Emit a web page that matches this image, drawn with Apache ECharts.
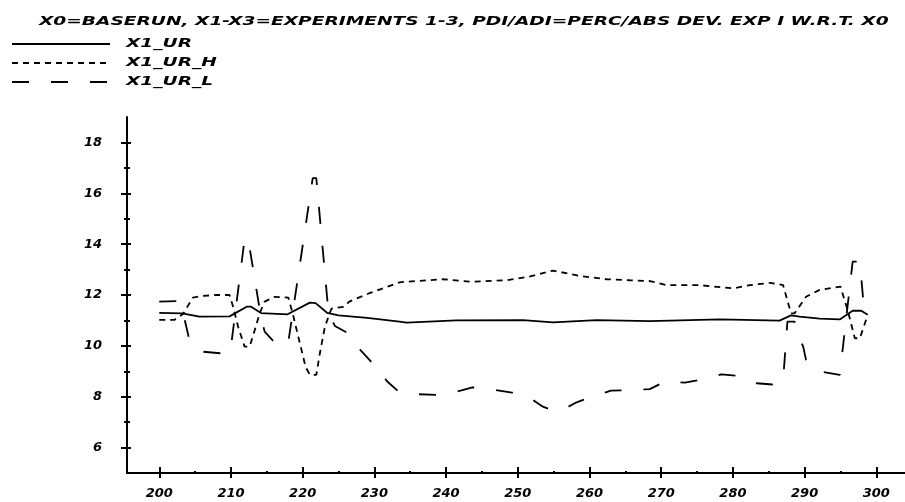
<!DOCTYPE html>
<html>
<head>
<meta charset="utf-8">
<script src="https://cdn.jsdelivr.net/npm/echarts@6/dist/echarts.min.js"></script>
<style>
  html, body { margin: 0; padding: 0; background: #fff; }
  #chart { width: 905px; height: 502px; }
</style>
</head>
<body>
<div id="chart"></div>
<script>
const titleText = 'X0=BASERUN, X1-X3=EXPERIMENTS 1-3, PDI/ADI=PERC/ABS DEV. EXP I W.R.T. X0';
const seriesNames = ['X1_UR', 'X1_UR_H', 'X1_UR_L'];
const seriesDash = ['solid', [6, 5], [17, 22]];

// X1_UR (solid)
const urX = [200, 203.2, 205.6, 209.8, 212.2, 212.8, 214.2, 217.9, 221, 221.8, 223.4, 225, 229, 233.5, 234.5,
  241.4, 250.7, 254.9, 261, 268.4, 278.2, 286.5, 288.1, 289.3, 292.1, 294.9, 296.7, 297.9, 298.8];
const urY = [11.3, 11.28, 11.15, 11.16, 11.54, 11.54, 11.29, 11.24, 11.7, 11.68, 11.3, 11.2, 11.1, 10.95, 10.91,
  11.0, 11.01, 10.92, 11.01, 10.97, 11.04, 10.99, 11.2, 11.15, 11.07, 11.04, 11.38, 11.38, 11.22];

// X1_UR_H (short dashes)
const urHX = [200, 202.1, 203.3, 204.7, 206, 207.9, 209.8, 210.3, 211, 211.9, 212.6, 213.3, 214, 214.7, 216.1,
  218, 218.6, 219.5, 220.4, 221, 221.9, 222.4, 223.1, 224, 225.8, 226.5, 229.3, 233.5, 239.5, 243.7, 248.4,
  251.6, 254.9, 258.7, 262.4, 265.6, 268.4, 270.7, 275.3, 280, 282.4, 285.2, 287, 288.1, 288.6, 290.2, 292.1,
  295, 296, 297, 297.7, 298.8];
const urHY = [11.02, 11.02, 11.25, 11.9, 11.96, 12.0, 12.0, 11.54, 10.75, 9.97, 9.97, 10.6, 11.28, 11.74, 11.93,
  11.9, 11.28, 10.23, 9.18, 8.86, 8.86, 9.71, 10.75, 11.46, 11.54, 11.74, 12.07, 12.5, 12.62, 12.52, 12.58,
  12.72, 12.96, 12.75, 12.62, 12.58, 12.55, 12.39, 12.39, 12.26, 12.39, 12.48, 12.39, 11.28, 11.28, 11.93, 12.2,
  12.33, 11.41, 10.3, 10.3, 11.21];

// X1_UR_L (long dashes)
const urLX = [200, 202.6, 203.5, 204.2, 205.2, 206.1, 208.5, 209.8, 210.0, 211.9, 212.4, 213.5, 214.2, 214.7,
  216.3, 217.3, 218.0, 221.4, 221.9, 223.6, 224.5, 226.3, 227.5, 228.9, 230.3, 231.8, 233.3, 236, 238.6, 241.5,
  243.7, 246.8, 249.2, 251.7, 253.5, 255.2, 256.2, 258.2, 260.6, 263, 265.6, 268.4, 270.7, 273.3, 275.8, 278.4,
  280.9, 283.3, 285.5, 287.0, 287.6, 288.6, 289, 289.8, 290.2, 292.1, 294.9, 296.7, 297.7, 298.3, 298.8];
const urLY = [11.74, 11.76, 11.08, 10.23, 9.9, 9.77, 9.71, 9.73, 9.97, 14.2, 14.2, 12.3, 11.1, 10.56,
  10.07, 9.98, 10.15, 16.6, 16.6, 11.3, 10.78, 10.5, 10.0, 9.58, 9.13, 8.6, 8.22, 8.1, 8.07, 8.2,
  8.37, 8.27, 8.16, 7.95, 7.61, 7.42, 7.48, 7.78, 8.03, 8.24, 8.26, 8.3, 8.62, 8.55, 8.69, 8.88,
  8.82, 8.53, 8.48, 8.65, 10.95, 10.95, 10.5, 9.97, 9.45, 8.99, 8.86, 13.31, 13.31, 11.41, 11.2];

const xLabels = [200, 210, 220, 230, 240, 250, 260, 270, 280, 290, 300];
const xMinorTicks = [205, 215, 225, 235, 245, 255, 265, 275, 285, 295];
const yLabels = [6, 8, 10, 12, 14, 16, 18];
const yMinorTicks = [7, 9, 11, 13, 15, 17];

const font = {
  fontFamily: 'DejaVu Sans',
  fontStyle: 'italic',
  fontWeight: 'bold',
  fontSize: 13,
  color: '#000'
};
const cssFont = 'italic bold 12px "DejaVu Sans"';
const stretch = 1.55; // the plotter's lettering is much wider than any installed font

const toPairs = (xs, ys) => xs.map((x, i) => [x, ys[i]]);

const chart = echarts.init(document.getElementById('chart'));

// extra axes only carry tick marks, so major ticks cross the axis line
function tickAxis(base, values, inside, length) {
  return Object.assign({}, base, {
    axisLine: { show: false, onZero: false },
    axisLabel: { show: false },
    splitLine: { show: false },
    axisTick: { customValues: values, inside: inside, length: length, lineStyle: { color: '#000', width: 2 } }
  });
}

const xBase = { type: 'value', min: 195.5, max: 304, position: 'bottom' };
const yBase = { type: 'value', min: 5, max: 19, position: 'left' };

// title and key drawn as stretched text
const graphics = [{
  type: 'text', x: 39, y: 22, scaleX: stretch,
  style: { text: titleText, font: cssFont, fill: '#000', verticalAlign: 'middle' }
}];
seriesNames.forEach((name, i) => {
  const rowY = 44 + i * 19;
  graphics.push({
    type: 'line',
    shape: { x1: 12, y1: rowY, x2: 110, y2: rowY },
    style: { stroke: '#000', lineWidth: 2, lineDash: seriesDash[i] === 'solid' ? null : seriesDash[i] }
  });
  graphics.push({
    type: 'text', x: 126, y: rowY, scaleX: stretch,
    style: { text: name, font: cssFont, fill: '#000', verticalAlign: 'middle' }
  });
});

chart.setOption({
  animation: false,
  graphic: graphics,
  grid: { left: 127, right: 0, top: 117, bottom: 29 },
  xAxis: [
    Object.assign({}, xBase, {
      axisLine: { onZero: false, lineStyle: { color: '#000', width: 2 } },
      axisTick: { customValues: xLabels, length: 5, lineStyle: { color: '#000', width: 2 } },
      axisLabel: Object.assign({ customValues: xLabels, margin: 14 }, font),
      splitLine: { show: false }
    }),
    tickAxis(xBase, xLabels, true, 6),
    tickAxis(xBase, xMinorTicks, true, 2)
  ],
  yAxis: [
    Object.assign({}, yBase, {
      axisLine: { onZero: false, lineStyle: { color: '#000', width: 2 } },
      axisTick: { customValues: yLabels, length: 6, lineStyle: { color: '#000', width: 2 } },
      axisLabel: Object.assign({ customValues: yLabels, margin: 25 }, font),
      splitLine: { show: false }
    }),
    tickAxis(yBase, yLabels, true, 4),
    tickAxis(yBase, yMinorTicks, true, 3),
    tickAxis(yBase, yMinorTicks, false, 3)
  ],
  series: seriesNames.map((name, i) => ({
    name: name,
    type: 'line',
    symbol: 'none',
    data: [toPairs(urX, urY), toPairs(urHX, urHY), toPairs(urLX, urLY)][i],
    lineStyle: { color: '#000', width: 1.8, type: seriesDash[i] },
    itemStyle: { color: '#000' }
  }))
});
</script>
</body>
</html>
